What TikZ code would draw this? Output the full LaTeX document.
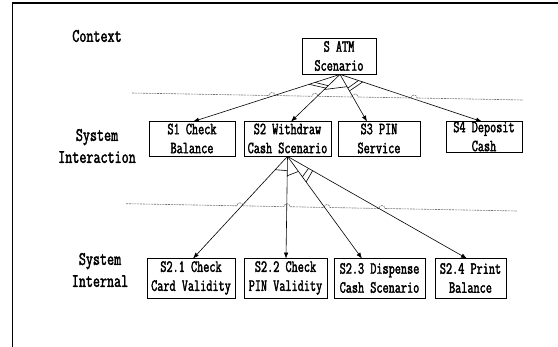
\documentclass[tikz,border=0pt]{standalone}
\usepackage{fontspec}
\newfontfamily\boxfont[FakeStretch=0.7,FakeBold=2]{Latin Modern Mono}
\newfontfamily\lvlfont[FakeStretch=0.72,FakeBold=2]{Latin Modern Mono}
\usetikzlibrary{arrows.meta,calc}
\tikzset{
  stbox/.style={draw=black,line width=0.8pt,inner sep=0pt,align=center,
    font=\boxfont\fontsize{17}{19}\selectfont},
  lvl/.style={align=center,inner sep=0pt,font=\lvlfont\fontsize{19}{22}\selectfont},
  dec/.style={-{Latex[length=6pt,width=4.5pt]},line width=0.6pt},
  dmark/.style={line width=0.6pt},
  sep/.style={draw=black!55,line width=0.6pt,dash pattern=on 2pt off 0.8pt},
}
\begin{document}
\begin{tikzpicture}[x=1pt,y=-1pt]
\useasboundingbox (0,0) rectangle (558,347);
% frame
\draw[line width=2pt] (12,3.5) -- (558,3.5);
\draw[line width=1.5pt] (12.3,3) -- (12.3,347);
% level labels
\node[lvl] (lc) at (97,36) {Context};
\node[lvl] (li) at (97,146) {System\\Interaction};
\node[lvl] (ln) at (100,270) {System\\Internal};
% boxes
\node[stbox,minimum width=74pt,minimum height=36pt] (top) at (339,56) {S ATM\\Scenario};
\node[stbox,minimum width=86pt,minimum height=35pt] (s1) at (192,138.5) {S1 Check\\Balance};
\node[stbox,minimum width=87pt,minimum height=35pt] (s2) at (287.5,138.5) {S2 Withdraw\\Cash Scenario};
\node[stbox,minimum width=82pt,minimum height=35pt] (s3) at (379,138.5) {S3 PIN\\Service};
\node[stbox,minimum width=76pt,minimum height=31pt] (s4) at (484,136.5) {S4 Deposit\\Cash};
\node[stbox,minimum width=88pt,minimum height=40pt] (s21) at (191,278) {S2.1 Check\\Card Validity};
\node[stbox,minimum width=83pt,minimum height=40pt] (s22) at (285.5,278) {S2.2 Check\\PIN Validity};
\node[stbox,minimum width=91pt,minimum height=40pt] (s23) at (379.5,278) {S2.3 Dispense\\Cash Scenario};
\node[stbox,minimum width=71pt,minimum height=40pt] (s24) at (470.5,278) {S2.4 Print\\Balance};
% separators with hops
\draw[sep] (132,93) -- (269,95.5) arc[start angle=180,end angle=360,radius=3]
  -- (312,96.3) arc[start angle=180,end angle=360,radius=3]
  -- (352,97) arc[start angle=180,end angle=360,radius=3]
  -- (411,98) arc[start angle=180,end angle=360,radius=3]
  -- (523,100);
\draw[sep] (126,203.7) -- (237,205.8) arc[start angle=180,end angle=360,radius=3]
  -- (284,206.7) arc[start angle=180,end angle=360,radius=3]
  -- (324,207.5) arc[start angle=180,end angle=360,radius=3]
  -- (379,208.5) arc[start angle=180,end angle=360,radius=3]
  -- (517,211);
% arrow end points
\coordinate (t1) at ([xshift=1pt,yshift=-1pt]s1.north);
\coordinate (t2) at ([xshift=3.5pt,yshift=-1pt]s2.north);
\coordinate (t3) at ([xshift=-12pt,yshift=-1pt]s3.north);
\coordinate (t4) at ([xshift=-2pt,yshift=-1pt]s4.north);
\coordinate (b1) at ([xshift=2pt,yshift=-1pt]s21.north);
\coordinate (b2) at ([xshift=0.5pt,yshift=-1pt]s22.north);
\coordinate (b3) at ([xshift=-17.5pt,yshift=-1pt]s23.north);
\coordinate (b4) at ([xshift=-3.5pt,yshift=-1pt]s24.north);
\coordinate (U) at ([xshift=1pt]top.south);
\coordinate (D) at (s2.south);
% arrows
\draw[dec] (U) -- (t1);
\draw[dec] (U) -- (t2);
\draw[dec] (U) -- (t3);
\draw[dec] (U) -- (t4);
\draw[dec] (D) -- (b1);
\draw[dec] (D) -- (b2);
\draw[dec] (D) -- (b3);
\draw[dec] (D) -- (b4);
% decomposition marks (upper)
\draw[dmark] ($(U)!0.17!(t1)$) -- ($(U)!0.24!(t2)$);
\draw[dmark] ($(U)!0.21!(t1)$) -- ($(U)!0.29!(t2)$);
\draw[dmark] ($(U)!0.32!(t2)$) -- ($(U)!0.26!(t3)$);
\draw[dmark] ($(U)!0.29!(t3)$) -- ($(U)!0.13!(t4)$);
\draw[dmark] ($(U)!0.35!(t3)$) -- ($(U)!0.16!(t4)$);
% decomposition marks (lower)
\draw[dmark] ($(D)!0.13!(b1)$) -- ($(D)!0.14!(b2)$);
\draw[dmark] ($(D)!0.19!(b2)$) -- ($(D)!0.147!(b3)$);
\draw[dmark] ($(D)!0.2!(b3)$) -- ($(D)!0.117!(b4)$);
\draw[dmark] ($(D)!0.25!(b3)$) -- ($(D)!0.14!(b4)$);
\end{tikzpicture}
\end{document}
